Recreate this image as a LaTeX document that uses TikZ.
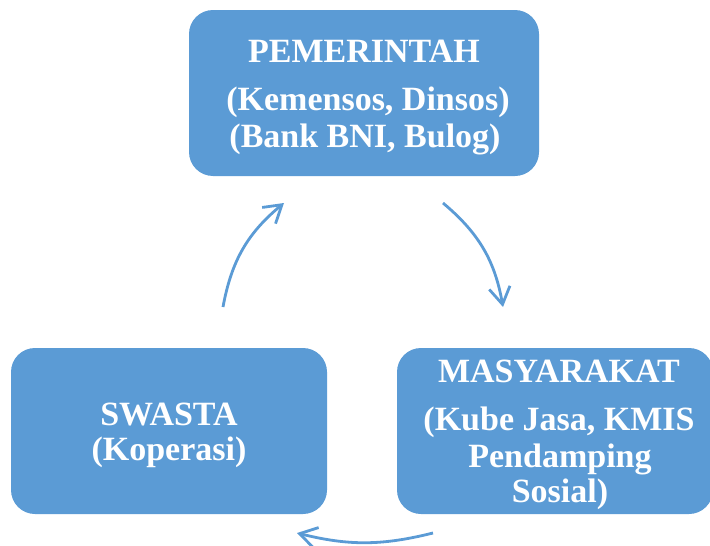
\documentclass[tikz,border=0pt]{standalone}
\usepackage{fontspec}
\setmainfont{Liberation Serif}
\usetikzlibrary{arrows.meta}
\definecolor{boxblue}{HTML}{5B9BD5}
\begin{document}
\begin{tikzpicture}[x=1pt,y=-1pt,
  box/.style={rectangle, rounded corners=24pt, fill=boxblue, draw=none, inner sep=0pt},
  lbl/.style={anchor=base, text=white, font=\fontsize{34}{40}\selectfont\bfseries, inner sep=0pt},
  cyc/.style={draw=boxblue, line width=2.8pt, -{Straight Barb[length=17pt,width=21pt,line width=2.8pt]}}]
\useasboundingbox (0,0) rectangle (710,546);
% boxes
\node[box, minimum width=350pt, minimum height=166pt] (pem) at (364,93) {};
\node[box, minimum width=316pt, minimum height=166pt] (swa) at (169,431) {};
\node[box, minimum width=316pt, minimum height=166pt] (mas) at (555,431) {};
% texts
\node[lbl] (pem1) at (364,62) {PEMERINTAH};
\node[lbl] (pem2) at (368,110) {(Kemensos, Dinsos)};
\node[lbl] (pem3) at (365,147) {(Bank BNI, Bulog)};
\node[lbl] (swa1) at (169,425) {SWASTA};
\node[lbl] (swa2) at (169,460) {(Koperasi)};
\node[lbl] (mas1) at (559,382) {MASYARAKAT};
\node[lbl] (mas2) at (559,430) {(Kube Jasa, KMIS};
\node[lbl] (mas3) at (560,467) {Pendamping};
\node[lbl] (mas4) at (560,502) {Sosial)};
% arrow ends
\coordinate (a1s) at (223,307);
\coordinate (a1e) at (284,203);
\coordinate (a2s) at (443,203);
\coordinate (a2e) at (503,307);
\coordinate (a3s) at (433,533);
\coordinate (a3e) at (297,533);
\draw[cyc] (a1s) to[bend left=20] (a1e);
\draw[cyc] (a2s) to[bend left=20] (a2e);
\draw[cyc] (a3s) to[bend left=14] (a3e);
\end{tikzpicture}
\end{document}
